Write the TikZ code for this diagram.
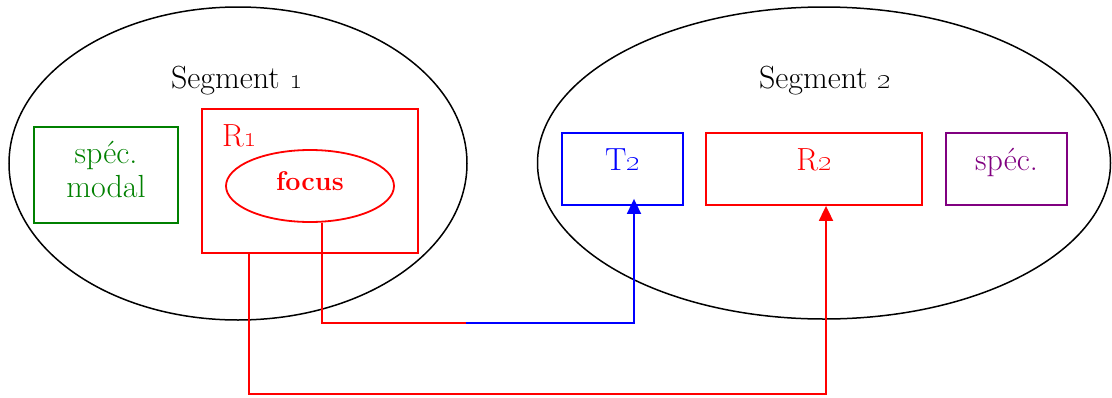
\documentclass[tikz,border=0pt]{standalone}
\usetikzlibrary{shapes.geometric,arrows.meta}
\definecolor{mygreen}{RGB}{0,128,0}
\definecolor{myred}{RGB}{255,0,0}
\definecolor{myblue}{RGB}{0,0,255}
\definecolor{mypurple}{RGB}{128,0,128}
\begin{document}
\begin{tikzpicture}[x=1pt,y=-1pt,
  seg/.style={draw=black,line width=1.5pt,ellipse,inner sep=0pt},
  box/.style={draw,line width=1.8pt,rectangle,inner sep=0pt,align=center,
              font=\fontsize{32}{34}\selectfont},
  lbl/.style={inner sep=0pt,font=\fontsize{32}{34}\selectfont},
  conn/.style={line width=1.8pt},
  tip/.style={-{Triangle[length=15pt,width=14pt]}}]
\useasboundingbox (0,0) rectangle (1112,397);

% segments
\node[seg,minimum width=458pt,minimum height=313pt] (seg1) at (238,163.5) {};
\node[seg,minimum width=573pt,minimum height=312pt] (seg2) at (824,163) {};
\node[lbl,anchor=base] (seg1lbl) at (237,88) {Segment \oldstylenums{1}};
\node[lbl,anchor=base] (seg2lbl) at (825,88) {Segment \oldstylenums{2}};

% segment 1 content
\node[box,draw=mygreen,text=mygreen,minimum width=144pt,minimum height=96pt,
      text height=50pt,text depth=6pt] (modal) at (106,175) {spéc.\\modal};
\node[box,draw=myred,minimum width=216pt,minimum height=144pt] (R1) at (310,181) {};
\node[lbl,anchor=base west,text=myred] (R1lbl) at (222,146) {R\oldstylenums{1}};
\node[ellipse,draw=myred,line width=1.8pt,inner sep=0pt,text=myred,
      minimum width=168pt,minimum height=72pt,text height=12pt,text depth=4pt,
      font=\fontsize{27}{30}\selectfont\bfseries] (focus) at (310,186) {focus};

% segment 2 content
\node[box,draw=myblue,text=myblue,minimum width=121pt,minimum height=72pt,
      text height=12pt,text depth=10pt] (T2) at (622.5,169) {T\oldstylenums{2}};
\node[box,draw=myred,text=myred,minimum width=216pt,minimum height=72pt,
      text height=12pt,text depth=10pt] (R2) at (814,169) {R\oldstylenums{2}};
\node[box,draw=mypurple,text=mypurple,minimum width=121pt,minimum height=72pt,
      text height=12pt,text depth=10pt] (spec) at (1006.5,169) {spéc.};

% connectors
\coordinate (fx) at (322,0);
\coordinate (mid) at (466,323);
\coordinate (tx) at (634,0);
\coordinate (rx) at (249,0);
\coordinate (low) at (249,394);
\coordinate (r2x) at (826,0);

\draw[conn,myred] (focus.south -| fx) |- (mid);
\draw[conn,myblue,tip] (mid) -| ([yshift=7pt]T2.south -| tx);
\draw[conn,myred,tip] (R1.south -| rx) |- (low) -| (R2.south -| r2x);
\end{tikzpicture}
\end{document}
